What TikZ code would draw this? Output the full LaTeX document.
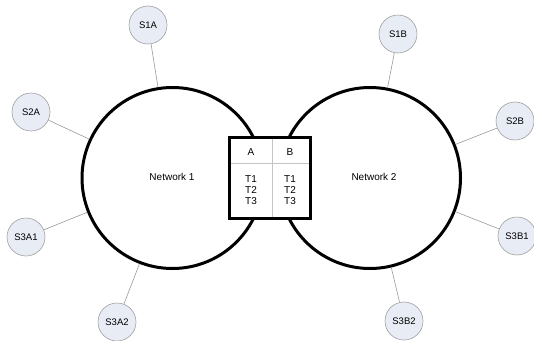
\documentclass[tikz,border=0pt]{standalone}
\usepackage{fontspec}
\setmainfont{Liberation Sans}
\definecolor{satfill}{HTML}{E8ECF5}
\definecolor{satdraw}{HTML}{A0A0A0}
\definecolor{linkc}{HTML}{9A9A9A}
\definecolor{divc}{HTML}{C4C4C4}
\begin{document}
\begin{tikzpicture}[x=1pt,y=-1pt,
  net/.style={circle,draw=black,line width=3pt,minimum size=181pt,inner sep=0pt},
  sat/.style={circle,draw=satdraw,fill=satfill,line width=0.6pt,minimum size=38pt,inner sep=0pt,font=\fontsize{9.5}{11}\selectfont},
  link/.style={draw=linkc,line width=0.6pt},
  lbl/.style={font=\fontsize{10}{12}\selectfont,inner sep=0pt},
  cell/.style={font=\fontsize{10}{12}\selectfont,inner sep=0pt,align=center}]
\useasboundingbox (0,0) rectangle (534,340);
\node[net] (N1) at (172.5,178) {};
\node[net] (N2) at (370,178) {};
\node[lbl] (L1) at (172,177) {Network 1};
\node[lbl] (L2) at (374,177) {Network 2};
% satellites
\node[sat] (S1A) at (148,25) {S1A};
\node[sat] (S2A) at (31,112) {S2A};
\node[sat] (S3A1) at (26,237) {S3A1};
\node[sat] (S3A2) at (117,322) {S3A2};
\node[sat] (S1B) at (398,34) {S1B};
\node[sat] (S2B) at (515,121) {S2B};
\node[sat] (S3B1) at (517,236) {S3B1};
\node[sat] (S3B2) at (404,321) {S3B2};
\foreach \s in {S1A,S2A,S3A1,S3A2} \draw[link] (\s) -- (N1);
\foreach \s in {S1B,S2B,S3B1,S3B2} \draw[link] (\s) -- (N2);
% table box
\node[draw=black,fill=white,line width=3pt,minimum width=81pt,minimum height=81pt,inner sep=0pt] (T) at (269.5,177.5) {};
\coordinate (DT) at (272,138.5);
\coordinate (DB) at (272,216.5);
\coordinate (HL) at (230.5,163);
\coordinate (HR) at (308.5,163);
\draw[divc,line width=0.8pt] (DT) -- (DB);
\draw[divc,line width=0.8pt] (HL) -- (HR);
\node[cell] (A) at (251,152) {A};
\node[cell] (B) at (290,152) {B};
\node[cell,text width=20pt] (TA) at (251,190) {T1\\[-1.2pt]T2\\[-1.2pt]T3};
\node[cell,text width=20pt] (TB) at (290,190) {T1\\[-1.2pt]T2\\[-1.2pt]T3};
\end{tikzpicture}
\end{document}
